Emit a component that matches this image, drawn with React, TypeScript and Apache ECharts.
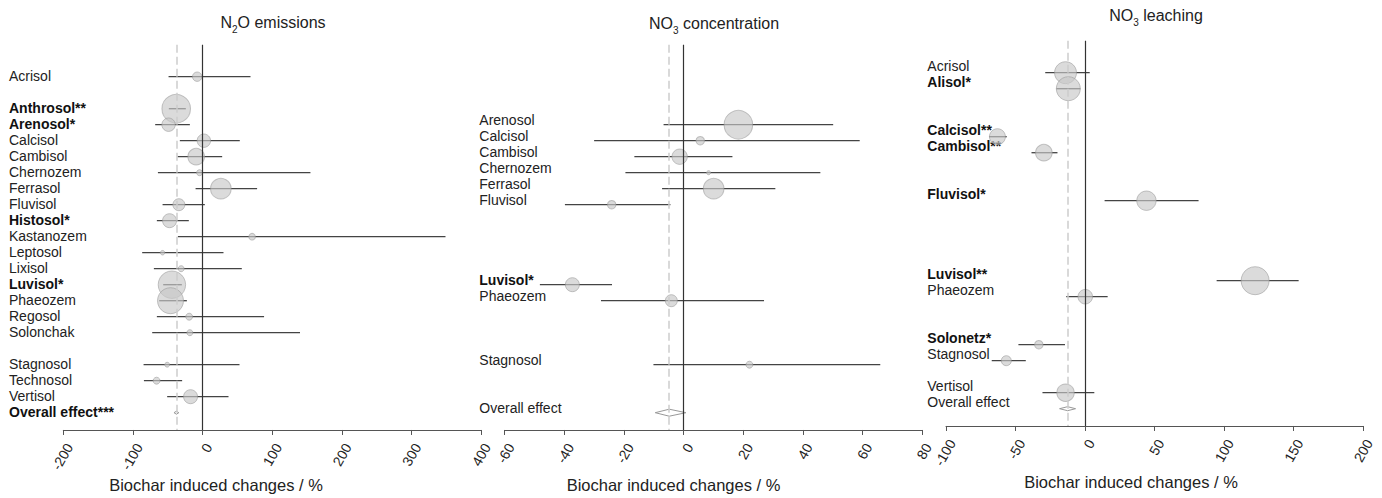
import React, { useEffect, useRef } from "react";
import * as echarts from "echarts";

// Common row order (soil groups), overall effect sits after the last soil
const soilOrder = [
  "Acrisol", "Alisol", "Anthrosol", "Arenosol", "Calcisol", "Cambisol", "Chernozem",
  "Ferrasol", "Fluvisol", "Histosol", "Kastanozem", "Leptosol", "Lixisol", "Luvisol",
  "Phaeozem", "Regosol", "Solonchak", "Solonetz", "Stagnosol", "Technosol", "Vertisol",
];
const overallLabel = "Overall effect";

// ---- N2O emissions ----
const n2oSoils = ["Acrisol", "Anthrosol", "Arenosol", "Calcisol", "Cambisol", "Chernozem", "Ferrasol", "Fluvisol", "Histosol", "Kastanozem", "Leptosol", "Lixisol", "Luvisol", "Phaeozem", "Regosol", "Solonchak", "Stagnosol", "Technosol", "Vertisol"];
const n2oSig = ["", "**", "*", "", "", "", "", "", "*", "", "", "", "*", "", "", "", "", "", ""];
const n2oMean = [-7.7, -37.8, -48.8, 1.9, -9.1, -4.3, 26.3, -34, -47.4, 71.2, -57.4, -30.7, -44, -46, -19.2, -18.2, -50.8, -66, -17.2];
const n2oLow = [-48.8, -48.4, -68, -32.6, -35.9, -64.1, -10, -57.4, -65.6, -35.4, -86.7, -69.9, -56.5, -62.3, -65.6, -72.3, -84.7, -84.2, -50.8];
const n2oHigh = [68.9, -24, -18.2, 53.5, 28.2, 155, 78.4, 3.3, -19.7, 349, 30.1, 56.4, -29.7, -22.5, 88.4, 140, 53.1, -29.3, 37.3];
const n2oWeight = [22, 204, 45, 45, 69, 9, 106, 36, 49, 11, 5, 9, 188, 169, 12, 9, 6, 12, 49];
const n2oOverall = [-37.5, -41, -34]; // mean, low, high
const n2oOverallSig = "***";
const n2oTicks = [-200, 400, 100]; // min, max, step

// ---- NO3 concentration ----
const no3cSoils = ["Arenosol", "Calcisol", "Cambisol", "Chernozem", "Ferrasol", "Fluvisol", "Luvisol", "Phaeozem", "Stagnosol"];
const no3cSig = ["", "", "", "", "", "", "*", "", ""];
const no3cMean = [18.4, 5.6, -1.3, 8.4, 10.1, -24.1, -37.3, -4.1, 22.1];
const no3cLow = [-6.7, -30, -16.5, -19.5, -7.2, -39.8, -48.2, -27.7, -10.1];
const no3cHigh = [50.2, 59.1, 16.4, 45.9, 30.8, -4.4, -24, 27, 66];
const no3cWeight = [204, 18, 59, 4, 106, 18, 49, 36, 12];
const no3cOverall = [-4.8, -9.5, 0.8];
const no3cOverallSig = "";
const no3cTicks = [-60, 80, 20];

// ---- NO3 leaching ----
const no3lSoils = ["Acrisol", "Alisol", "Calcisol", "Cambisol", "Fluvisol", "Luvisol", "Phaeozem", "Solonetz", "Stagnosol", "Vertisol"];
const no3lSig = ["", "*", "**", "**", "*", "**", "", "*", "", ""];
const no3lMean = [-14, -12, -63, -29.6, 44.2, 122.4, 0.2, -33.2, -56.6, -14];
const no3lLow = [-28.6, -20.5, -68.8, -38.5, 14.1, 94.7, -13.5, -47.9, -67.1, -30.6];
const no3lHigh = [3.4, -3.4, -56.3, -19.8, 81.7, 153.7, 16.3, -14.4, -42.6, 6.7];
const no3lWeight = [121, 144, 64, 69, 94, 196, 53, 18, 25, 76];
const no3lOverall = [-12.5, -18.3, -6.8];
const no3lOverallSig = "";
const no3lTicks = [-100, 200, 50];

const axisTitle = "Biochar induced changes / %";

const FONT = 'Arial, "Liberation Sans", Helvetica, sans-serif';

type Panel = {
  soils: string[]; sig: string[]; mean: number[]; low: number[]; high: number[]; weight: number[];
  overall: number[]; overallSig: string; ticks: number[];
  title: string; gridLeft: number; gridRight: number; gridTop: number;
  labelX: number; labelPad: number; diamondH: number;
  titleX: number; titleY: number; nameX: number; nameY: number;
};

const panels: Panel[] = [
  { soils: n2oSoils, sig: n2oSig, mean: n2oMean, low: n2oLow, high: n2oHigh, weight: n2oWeight,
    overall: n2oOverall, overallSig: n2oOverallSig, ticks: n2oTicks,
    title: "{a|N}{s|2}{a|O emissions}", gridLeft: 63.3, gridRight: 481, gridTop: 44.7,
    labelX: 9, labelPad: 2, diamondH: 1.5, titleX: 273, titleY: 22, nameX: 216, nameY: 485 },
  { soils: no3cSoils, sig: no3cSig, mean: no3cMean, low: no3cLow, high: no3cHigh, weight: no3cWeight,
    overall: no3cOverall, overallSig: no3cOverallSig, ticks: no3cTicks,
    title: "{a|NO}{s|3}{a| concentration}", gridLeft: 504.7, gridRight: 922, gridTop: 44.7,
    labelX: 479.3, labelPad: 10, diamondH: 3.5, titleX: 714, titleY: 23, nameX: 673.5, nameY: 485 },
  { soils: no3lSoils, sig: no3lSig, mean: no3lMean, low: no3lLow, high: no3lHigh, weight: no3lWeight,
    overall: no3lOverall, overallSig: no3lOverallSig, ticks: no3lTicks,
    title: "{a|NO}{s|3}{a| leaching}", gridLeft: 946, gridRight: 1363, gridTop: 40.7,
    labelX: 927.3, labelPad: 14, diamondH: 2, titleX: 1156, titleY: 15, nameX: 1131, nameY: 482 },
];

const ROW_MIN = -2;
const ROW_MAX = 22.08;
const ROW_PX = 16;

function buildOption() {
  const grids: any[] = [];
  const xAxes: any[] = [];
  const yAxes: any[] = [];
  const series: any[] = [];
  const graphic: any[] = [];
  const overallRow = soilOrder.length;

  panels.forEach((p, k) => {
    const height = (ROW_MAX - ROW_MIN) * ROW_PX;
    grids.push({ left: p.gridLeft, top: p.gridTop, width: p.gridRight - p.gridLeft, height, containLabel: false });

    const labelMap: Record<number, { text: string; bold: boolean }> = {};
    p.soils.forEach((s, i) => {
      labelMap[soilOrder.indexOf(s)] = { text: s + p.sig[i], bold: p.sig[i] !== "" };
    });
    labelMap[overallRow] = { text: overallLabel + p.overallSig, bold: p.overallSig !== "" };

    xAxes.push({
      type: "value", gridIndex: k, min: p.ticks[0], max: p.ticks[1], interval: p.ticks[2],
      splitLine: { show: false },
      axisLine: { show: true, onZero: false, lineStyle: { color: "#555", width: 1 } },
      axisTick: { show: true, length: 5, lineStyle: { color: "#555" } },
      axisLabel: {
        show: true, rotate: 60, align: "right", verticalAlign: "top", margin: 11,
        fontSize: 14, color: "#222", fontFamily: FONT, showMinLabel: true, showMaxLabel: true,
      },
    });
    yAxes.push({
      type: "value", gridIndex: k, inverse: true, min: ROW_MIN, max: ROW_MAX, interval: 1,
      axisLine: { show: false }, axisTick: { show: false }, splitLine: { show: false },
      axisLabel: {
        show: true, align: "left", margin: p.gridLeft - p.labelX, padding: [0, 0, p.labelPad, 0],
        showMinLabel: true, showMaxLabel: false,
        formatter: (v: number) => {
          const i = Math.round(v);
          if (Math.abs(v - i) > 1e-6 || !labelMap[i]) return "";
          const l = labelMap[i];
          return l.bold ? "{b|" + l.text + "}" : "{n|" + l.text + "}";
        },
        rich: {
          b: { fontSize: 14, fontWeight: "bold", color: "#111", fontFamily: FONT },
          n: { fontSize: 14, color: "#222", fontFamily: FONT },
        },
      },
    });

    const barData = p.soils.map((s, i) => [p.low[i], p.high[i], soilOrder.indexOf(s)]);
    series.push({
      type: "custom", xAxisIndex: k, yAxisIndex: k, z: 2, silent: true,
      data: barData, encode: { x: [0, 1], y: 2 },
      renderItem: (params: any, api: any) => {
        const a = api.coord([api.value(0), api.value(2)]);
        const b = api.coord([api.value(1), api.value(2)]);
        return { type: "line", shape: { x1: a[0], y1: a[1], x2: b[0], y2: b[1] }, style: { stroke: "#444", lineWidth: 1.3 } };
      },
    });
    const ptData = p.soils.map((s, i) => [p.mean[i], soilOrder.indexOf(s), p.weight[i]]);
    series.push({
      type: "scatter", xAxisIndex: k, yAxisIndex: k, z: 3, silent: true,
      data: ptData, symbol: "circle",
      symbolSize: (val: number[]) => 2 * Math.sqrt(val[2]),
      itemStyle: { color: "rgba(200,200,200,0.65)", borderColor: "rgba(150,150,150,0.55)", borderWidth: 1, opacity: 1 },
      markLine: {
        silent: true, symbol: ["none", "none"], label: { show: false }, animation: false,
        data: [
          { xAxis: 0, lineStyle: { color: "#333", width: 1.2, type: "solid" } },
          { xAxis: p.overall[0], lineStyle: { color: "#cdcdcd", width: 1.5, type: [8, 4] } },
        ],
      },
    });
    const dh = p.diamondH;
    series.push({
      type: "custom", xAxisIndex: k, yAxisIndex: k, z: 4, silent: true,
      data: [[p.overall[0], p.overall[1], p.overall[2], overallRow]], encode: { x: [0, 1, 2], y: 3 },
      renderItem: (params: any, api: any) => {
        const c = api.coord([api.value(0), api.value(3)]);
        const l = api.coord([api.value(1), api.value(3)]);
        const r = api.coord([api.value(2), api.value(3)]);
        return {
          type: "polygon",
          shape: { points: [[l[0], c[1]], [c[0], c[1] - dh], [r[0], c[1]], [c[0], c[1] + dh]] },
          style: { fill: "#fff", stroke: "#999", lineWidth: 1 },
        };
      },
    });

    graphic.push({
      type: "text", x: p.titleX, y: p.titleY,
      style: {
        text: p.title, align: "center", verticalAlign: "middle", textAlign: "center", textVerticalAlign: "middle",
        rich: {
          a: { fontSize: 16, lineHeight: 24, fontFamily: FONT, fill: "#222", color: "#222" },
          s: { fontSize: 10, lineHeight: 10, verticalAlign: "bottom", fontFamily: FONT, fill: "#222", color: "#222" },
        },
      },
    });
    graphic.push({
      type: "text", x: p.nameX, y: p.nameY,
      style: {
        text: axisTitle, align: "center", verticalAlign: "middle", textAlign: "center", textVerticalAlign: "middle",
        fontSize: 16.5, fontFamily: FONT, fill: "#222",
      },
    });
  });

  return { animation: false, backgroundColor: "#fff", grid: grids, xAxis: xAxes, yAxis: yAxes, series, graphic };
}

export default function App() {
  const ref = useRef<HTMLDivElement>(null);
  useEffect(() => {
    if (!ref.current) return;
    const chart = echarts.init(ref.current, undefined, { renderer: "svg" });
    chart.setOption(buildOption() as any);
    return () => chart.dispose();
  }, []);
  return <div ref={ref} style={{ position: "absolute", left: 0, top: 0, width: 1382, height: 498, background: "#fff" }} />;
}
